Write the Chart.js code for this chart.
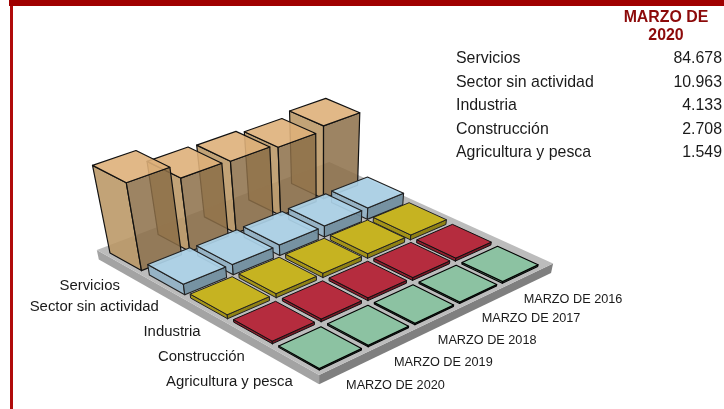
<!DOCTYPE html>
<html><head><meta charset="utf-8">
<style>
html,body{margin:0;padding:0;background:#fff;overflow:hidden}
#wrap{position:relative;width:724px;height:409px}
#top{position:absolute;left:9px;top:0;width:715px;height:6px;background:#A00000}
#side{position:absolute;left:10px;top:6px;width:2.5px;height:403px;background:#B00A0A}
canvas{position:absolute;left:0;top:0}
</style>
<script src="https://cdn.jsdelivr.net/npm/chart.js@4/dist/chart.umd.min.js"></script>
</head><body>
<div id="wrap"><div id="top"></div><div id="side"></div><canvas id="c" width="724" height="409"></canvas></div>
<script>
// ---------- data ----------
const years = ['MARZO DE 2020','MARZO DE 2019','MARZO DE 2018','MARZO DE 2017','MARZO DE 2016'];
const seriesNames = ['Agricultura y pesca','Construcción','Industria','Sector sin actividad','Servicios'];
const agricultura = [1.549,1.6,1.6,1.7,1.8];
const construccion = [2.708,2.8,2.9,3.0,3.1];
const industria = [4.133,4.2,4.5,4.8,5.0];
const sinActividad = [10.963,10.5,11,11.5,12];
const servicios = [84.678,72,71,68,72.5];
const tableTitle = ['MARZO DE','2020'];
const tableOrder = [4,3,2,1,0];
const allSeries = [agricultura,construccion,industria,sinActividad,servicios];

// ---------- view (camera) ----------
const gridQuad = [[319.3,370],[537.7,266.5],[327,170],[110,253]];
const vertVP = [323,1320], mu = 0.001;
const floorU = [-0.02,1.055], floorV = [-0.02,1.045], floorDepth = -10;
const tileFrac = 0.86;
const pitch = 1/(4+tileFrac), tile = pitch*tileFrac;
const tallInsetV = 0.012, tallWidthU = 0.96;
const seriesLabelNudge = [[43.5,0],[41.5,2],[41,3],[41,2],[42,5]];
const yearLabelNudge = [[5.5,25.5],[5.5,25],[3.5,25],[3.5,24],[3.5,25]];

function makeCamera(q){
  const [x0,y0]=q[0],[x1,y1]=q[1],[x2,y2]=q[2],[x3,y3]=q[3];
  const dx1=x1-x2,dx2=x3-x2,sx=x0-x1+x2-x3,dy1=y1-y2,dy2=y3-y2,sy=y0-y1+y2-y3;
  const den=dx1*dy2-dx2*dy1, g=(sx*dy2-dx2*sy)/den, h=(dx1*sy-sx*dy1)/den;
  return {a:x1-x0+g*x1,b:x3-x0+h*x3,c:x0,d:y1-y0+g*y1,e:y3-y0+h*y3,f:y0,g,h};
}
const cam = makeCamera(gridQuad);
function project(u,v,z){
  const w=cam.g*u+cam.h*v+1-mu*z;
  return {x:(cam.a*u+cam.b*v+cam.c-mu*z*vertVP[0])/w,
          y:(cam.d*u+cam.e*v+cam.f-mu*z*vertVP[1])/w};
}

// ---------- styles ----------
const styles = [
 {top:'#8CC2A2',left:'#5F8A70',right:'#4E7560',line:'#000',lw:1.1},
 {top:'#B52C3E',left:'#8E1F2E',right:'#7A1826',line:'#111',lw:1},
 {top:'#C6B321',left:'#A39318',right:'#8F8114',line:'#222',lw:1},
 {top:'rgba(172,210,232,.92)',left:'rgba(146,178,198,.92)',right:'rgba(112,142,160,.92)',line:'#222',lw:1.1},
 {top:'rgba(222,176,122,.9)',left:'rgba(186,150,100,.88)',right:'rgba(140,110,72,.85)',line:'#111',lw:1.2}
];

// ---------- build polygons from the values ----------
const datasets=[];
function face(pts,fill,line,lw){
  const data=pts.map(p=>({x:p.x,y:p.y}));
  data.push({x:pts[0].x,y:pts[0].y});
  datasets.push({data,fill:'shape',backgroundColor:fill,borderColor:line||'rgba(0,0,0,0)',
    borderWidth:line?lw:0,pointRadius:0,tension:0,borderDash:[100000],borderJoinStyle:'round',borderCapStyle:'round'});
}
function box(u0,u1,v0,v1,z0,z1,st){
  const P=(u,v,z)=>project(u,v,z);
  face([P(u0,v0,z0),P(u0,v1,z0),P(u0,v1,z1),P(u0,v0,z1)],st.left,st.line,st.lw);
  face([P(u0,v0,z0),P(u1,v0,z0),P(u1,v0,z1),P(u0,v0,z1)],st.right,st.line,st.lw);
  face([P(u0,v0,z1),P(u1,v0,z1),P(u1,v1,z1),P(u0,v1,z1)],st.top,st.line,st.lw);
}
box(floorU[0],floorU[1],floorV[0],floorV[1],floorDepth,0,{top:'#BCBCBC',left:'#A3A3A3',right:'#7F7F7F',line:null,lw:0});
for(let j=seriesNames.length-1;j>=0;j--){
  for(let k=years.length-1;k>=0;k--){
    const tall=j===seriesNames.length-1;
    box(k*pitch,k*pitch+tile*(tall?tallWidthU:1),j*pitch+(tall?tallInsetV:0),j*pitch+tile,0,allSeries[j][k],styles[j]);
  }
}
datasets.forEach((d,i)=>{d.order=datasets.length-i;});

// ---------- labels ----------
const labelsPlugin={id:'labels',afterDraw(chart){
  const c=chart.ctx, sx=chart.scales.x, sy=chart.scales.y;
  c.save();
  c.textBaseline='middle';
  c.fillStyle='#1a1a1a';
  c.font='14.9px "Liberation Sans"'; c.textAlign='right';
  seriesNames.forEach((n,j)=>{
    const p=project(-0.2,j*pitch+tile/2,0), s=seriesLabelNudge[j];
    c.fillText(n,sx.getPixelForValue(p.x)+s[0],sy.getPixelForValue(p.y)+s[1]);
  });
  c.font='12.7px "Liberation Sans"'; c.textAlign='left';
  years.forEach((n,k)=>{
    const p=project(k*pitch+tile/2,0,0), s=yearLabelNudge[k];
    c.fillText(n,sx.getPixelForValue(p.x)+s[0],sy.getPixelForValue(p.y)+s[1]);
  });
  c.fillStyle='#8C0A0A'; c.font='bold 15.9px "Liberation Sans"'; c.textAlign='center';
  tableTitle.forEach((t,i)=>c.fillText(t,666,18+i*17.5));
  c.fillStyle='#1a1a1a'; c.font='15.9px "Liberation Sans"';
  tableOrder.forEach((j,i)=>{
    const y=58.7+i*23.5;
    c.textAlign='left'; c.fillText(seriesNames[j],456,y);
    c.textAlign='right'; c.fillText(allSeries[j][0].toFixed(3),722,y);
  });
  c.restore();
}};

new Chart(document.getElementById('c'),{
  type:'scatter',
  data:{datasets:datasets.map(d=>Object.assign({showLine:true},d))},
  options:{responsive:false,animation:false,
    layout:{padding:0},
    scales:{x:{type:'linear',min:0,max:724,display:false},
            y:{type:'linear',min:0,max:409,reverse:true,display:false}},
    plugins:{legend:{display:false},tooltip:{enabled:false},title:{display:false}}},
  plugins:[labelsPlugin]
});
</script>
</body></html>
